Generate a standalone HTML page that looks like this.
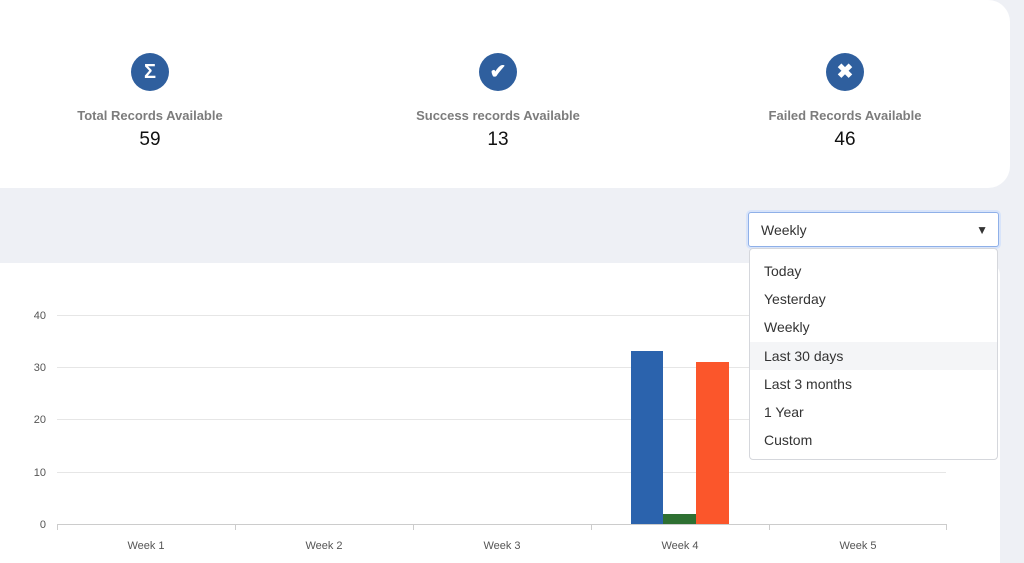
<!DOCTYPE html>
<html><head><style>
body{margin:0;width:1024px;height:561px;background:#eef0f5;font-family:"Liberation Sans",sans-serif;position:relative;overflow:hidden}
.card{position:absolute;background:#fff}
.st{position:absolute;text-align:center;width:240px}
.ic{width:38px;height:38px;border-radius:50%;background:#2f5f9e;margin:0 auto;color:#fff;font-weight:bold;font-size:20px;line-height:38px}
.lb{color:#666;font-size:13px;margin-top:17px;font-weight:bold;opacity:.85}
.nm{color:#111;font-size:19px;margin-top:6px}
.sel{position:absolute;left:748px;top:212px;border:1px solid #8fb0e8;border-radius:3px;background:#fff;box-shadow:0 0 0 2px #d8e4fa;font-size:14px;color:#333;line-height:34px;box-sizing:border-box;width:251px;height:35px;padding-left:12px}
.menu{position:absolute;left:749px;top:248px;width:249px;height:212px;background:#fff;border:1px solid #d5d7dc;border-radius:4px;box-sizing:border-box;font-size:14px;color:#333}
.menu div{position:absolute;left:0;width:100%;height:28px;line-height:28px;padding-left:14px;box-sizing:border-box}
</style></head><body>
<div class="card" style="left:0;top:0;width:1010px;height:188px;border-radius:0 22px 22px 0"></div>
<div class="st" style="left:30px;top:53px"><div class="ic">Σ</div><div class="lb">Total Records Available</div><div class="nm">59</div></div>
<div class="st" style="left:378px;top:53px"><div class="ic">✔</div><div class="lb">Success records Available</div><div class="nm">13</div></div>
<div class="st" style="left:725px;top:53px"><div class="ic">✖</div><div class="lb">Failed Records Available</div><div class="nm">46</div></div>
<div class="card" style="left:0;top:263px;width:1000px;height:300px;border-top-right-radius:12px"></div>
<svg style="position:absolute;left:0;top:0" width="1024" height="561" font-family="Liberation Sans" font-size="11" fill="#555">
<g stroke="#e6e6e6"><line x1="57" x2="946" y1="315.5" y2="315.5"/><line x1="57" x2="946" y1="367.5" y2="367.5"/><line x1="57" x2="946" y1="419.5" y2="419.5"/><line x1="57" x2="946" y1="472.5" y2="472.5"/></g>
<g stroke="#ccc"><line x1="57" x2="946" y1="524.5" y2="524.5"/><line x1="57.5" x2="57.5" y1="524" y2="530"/><line x1="235.5" x2="235.5" y1="524" y2="530"/><line x1="413.5" x2="413.5" y1="524" y2="530"/><line x1="591.5" x2="591.5" y1="524" y2="530"/><line x1="769.5" x2="769.5" y1="524" y2="530"/><line x1="946.5" x2="946.5" y1="524" y2="530"/></g>
<g text-anchor="end"><text x="46" y="319">40</text><text x="46" y="371">30</text><text x="46" y="423">20</text><text x="46" y="476">10</text><text x="46" y="528">0</text></g>
<g text-anchor="middle"><text x="146" y="549">Week 1</text><text x="324" y="549">Week 2</text><text x="502" y="549">Week 3</text><text x="680" y="549">Week 4</text><text x="858" y="549">Week 5</text></g>
<rect x="631" y="351" width="32" height="173" fill="#2b63ad"/>
<rect x="663" y="514" width="33" height="10" fill="#2e7032"/>
<rect x="696" y="362" width="33" height="162" fill="#fb562b"/>
</svg>
<div class="sel">Weekly<span style="position:absolute;right:10px;top:0;font-size:12px">▼</span></div>
<div class="menu">
<div style="top:8px">Today</div><div style="top:36px">Yesterday</div><div style="top:64px">Weekly</div>
<div style="top:93px;background:#f4f5f7">Last 30 days</div><div style="top:121px">Last 3 months</div><div style="top:149px">1 Year</div><div style="top:177px">Custom</div>
</div>
</body></html>
